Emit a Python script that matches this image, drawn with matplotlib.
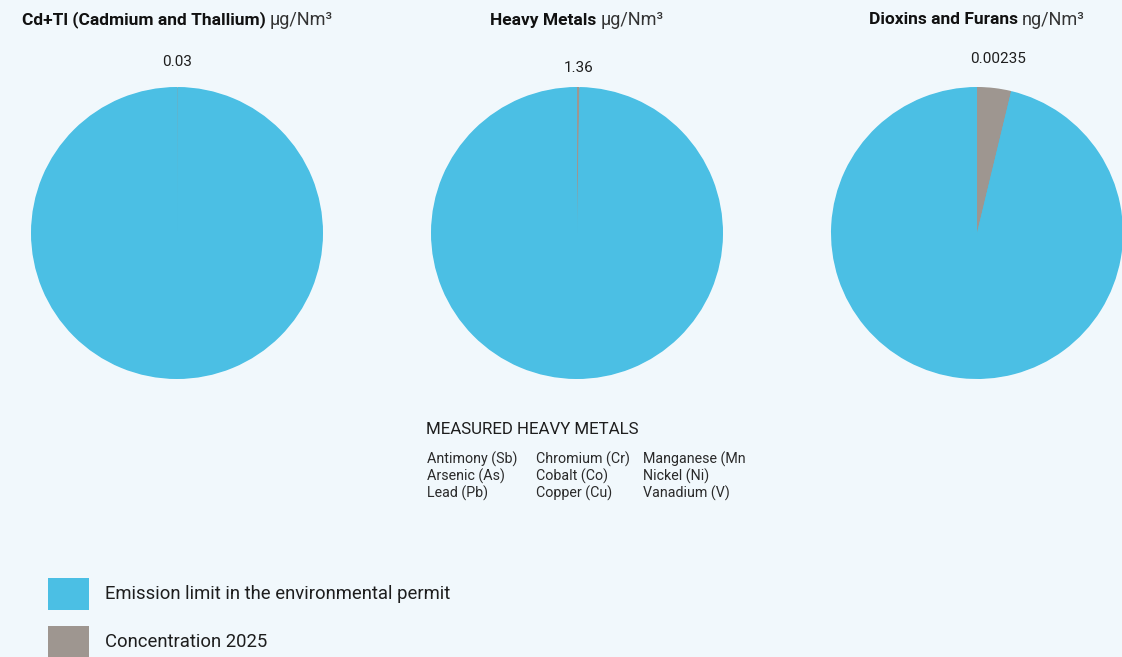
import matplotlib
matplotlib.use("Agg")
import matplotlib.pyplot as plt
from matplotlib.patches import Circle
import numpy as np

# ---- data ----
titles_bold = ["Cd+Tl (Cadmium and Thallium)", "Heavy Metals", "Dioxins and Furans"]
titles_unit = ["µg/Nm³", "µg/Nm³", "ng/Nm³"]
concentration_2025 = [0.03, 1.36, 0.00235]
emission_limit = [50, 500, 0.06]
value_labels = ["0.03", "1.36", "0.00235"]
legend_labels = ["Emission limit in the environmental permit", "Concentration 2025"]
metals_heading = "MEASURED HEAVY METALS"
metals_columns = [["Antimony (Sb)", "Arsenic (As)", "Lead (Pb)"],
                  ["Chromium (Cr)", "Cobalt (Co)", "Copper (Cu)"],
                  ["Manganese (Mn)", "Nickel (Ni)", "Vanadium (V)"]]

# ---- style ----
BG = "#F1F8FC"
BLUE = "#4BBFE4"
GREY = "#9E9690"
TXT = "#1E1E1E"
FONT = ["Roboto", "DejaVu Sans"]
plt.rcParams["font.family"] = FONT

W, H = 1122, 657
fig = plt.figure(figsize=(W / 100, H / 100), dpi=100, facecolor=BG)

def fx(x):
    return x / W

def fy(y):
    return 1 - y / H

centers_x = [177, 577, 977]
cy = 233
R = 146
label_dist = [1.17, 1.13, 1.2]
title_y = 20

renderer = fig.canvas.get_renderer()

for i in range(3):
    ax = fig.add_axes([fx(centers_x[i] - R), fy(cy + R), 2 * R / W, 2 * R / H])
    ax.set_facecolor("none")
    # blue underlay disc (same radius as the pie) hides anti-aliasing seams
    ax.add_patch(Circle((0, 0), 0.995, facecolor=BLUE, edgecolor="none", zorder=0))
    wedges, _ = ax.pie([concentration_2025[i], emission_limit[i]],
                       colors=[GREY, BLUE], startangle=90, counterclock=False,
                       radius=1.0, wedgeprops=dict(linewidth=0))
    for w in wedges:
        w.set_zorder(1)
    ax.set_xlim(-1, 1)
    ax.set_ylim(-1, 1)
    ax.set_aspect("auto")
    ax.axis("off")
    # label at mid-angle of the concentration wedge
    w = wedges[0]
    mid = np.deg2rad((w.theta1 + w.theta2) / 2)
    d = label_dist[i]
    ax.text(d * np.cos(mid), d * np.sin(mid), value_labels[i], ha="center",
            va="center", fontsize=11, color=TXT, clip_on=False)

    # title: bold part + regular unit, centred as a pair
    tb = fig.text(0, fy(title_y), titles_bold[i], fontsize=12.5, fontweight="bold",
                  color="#111111", ha="left", va="center")
    tu = fig.text(0, fy(title_y), titles_unit[i], fontsize=13, color="#333333",
                  ha="left", va="center")
    wb = tb.get_window_extent(renderer).width
    wu = tu.get_window_extent(renderer).width
    gap = 4
    total = wb + gap + wu
    x0 = centers_x[i] - total / 2
    tb.set_x(fx(x0))
    tu.set_x(fx(x0 + wb + gap))

# ---- measured heavy metals list ----
lax = fig.add_axes([fx(420), fy(510), 325 / W, 100 / H])
lax.set_xlim(420, 745)
lax.set_ylim(510, 410)
lax.axis("off")
lax.text(426, 430, metals_heading, fontsize=12.2, color=TXT, va="center", ha="left",
         clip_on=True)
col_x = [427, 536, 643]
row_y = [459, 476, 493]
for c, col in enumerate(metals_columns):
    for r, name in enumerate(col):
        lax.text(col_x[c], row_y[r], name, fontsize=10.3, color="#2a2a2a",
                 va="center", ha="left", clip_on=True)

# ---- legend ----
leg_colors = [BLUE, GREY]
leg_y = [594, 642]
for lbl, col, yy in zip(legend_labels, leg_colors, leg_y):
    fig.patches.append(plt.Rectangle((fx(48), fy(yy + 16)), 41 / W, 32 / H,
                                     transform=fig.transFigure, facecolor=col,
                                     edgecolor="none"))
    fig.text(fx(105), fy(yy), lbl, fontsize=13.3, color=TXT, va="center", ha="left")

fig.savefig("out.png", dpi=100, facecolor=BG)
